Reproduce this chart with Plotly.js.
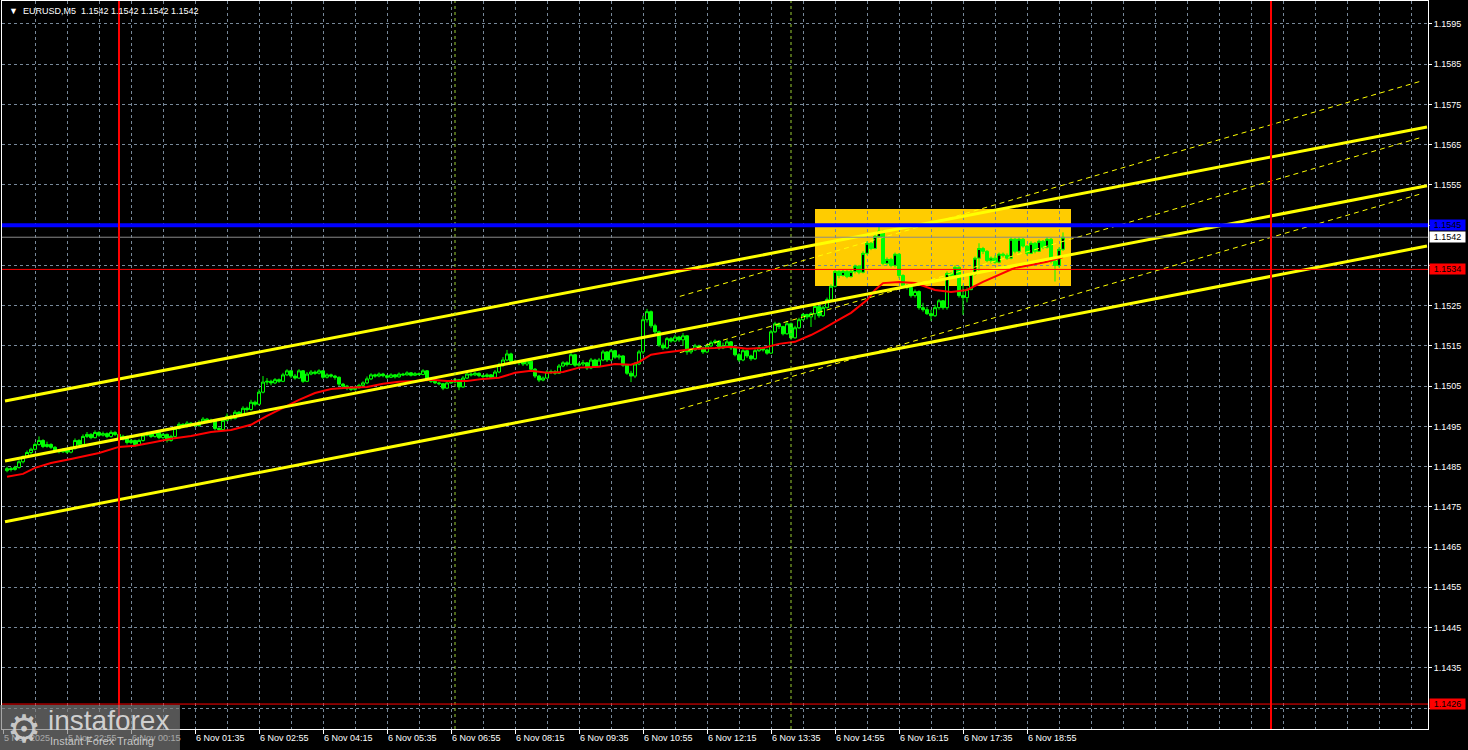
<!DOCTYPE html>
<html>
<head>
<meta charset="utf-8">
<script src="https://cdn.plot.ly/plotly-3.0.1.min.js"></script>
<style>
html,body{margin:0;padding:0;background:#000;}
#chart{width:1468px;height:750px;}
</style>
</head>
<body>
<div id="chart"></div>
<script>
// ---------- DATA (EURUSD M5, 5 Nov 21:40 -> 6 Nov 19:40) ----------
const firstBarUTC = Date.UTC(2025, 10, 5, 21, 40); // first bar time
const barStepMs = 5 * 60 * 1000;                   // M5 bars

const opens = [1.14840,1.14845,1.14843,1.14848,1.14862,1.14875,1.14885,1.14893,
1.14905,1.14915,1.14900,1.14905,1.14898,1.14890,1.14887,1.14892,
1.14886,1.14895,1.14915,1.14905,1.14925,1.14930,1.14922,1.14935,
1.14928,1.14932,1.14925,1.14935,1.14930,1.14918,1.14925,1.14910,
1.14915,1.14905,1.14915,1.14928,1.14932,1.14925,1.14935,1.14922,
1.14930,1.14915,1.14925,1.14945,1.14955,1.14950,1.14958,1.14955,
1.14952,1.14960,1.14968,1.14962,1.14965,1.14945,1.14942,1.14965,
1.14975,1.14970,1.14985,1.14980,1.14995,1.14992,1.15010,1.15005,
1.15035,1.15060,1.15062,1.15058,1.15066,1.15062,1.15078,1.15088,
1.15075,1.15070,1.15088,1.15062,1.15080,1.15085,1.15082,1.15088,
1.15072,1.15078,1.15075,1.15072,1.15055,1.15050,1.15045,1.15042,
1.15046,1.15052,1.15058,1.15068,1.15078,1.15075,1.15080,1.15076,
1.15072,1.15078,1.15073,1.15080,1.15078,1.15083,1.15077,1.15081,
1.15079,1.15088,1.15065,1.15062,1.15058,1.15056,1.15045,1.15058,
1.15060,1.15066,1.15048,1.15070,1.15080,1.15078,1.15082,1.15076,
1.15074,1.15078,1.15072,1.15085,1.15102,1.15115,1.15130,1.15112,
1.15108,1.15110,1.15105,1.15112,1.15092,1.15075,1.15065,1.15070,
1.15085,1.15086,1.15082,1.15100,1.15108,1.15104,1.15128,1.15102,
1.15105,1.15108,1.15095,1.15115,1.15100,1.15115,1.15135,1.15115,
1.15138,1.15122,1.15125,1.15102,1.15082,1.15075,1.15105,1.15135,
1.15215,1.15235,1.15200,1.15185,1.15152,1.15145,1.15168,1.15162,
1.15172,1.15165,1.15175,1.15135,1.15140,1.15150,1.15145,1.15135,
1.15150,1.15158,1.15162,1.15145,1.15150,1.15160,1.15145,1.15128,
1.15115,1.15138,1.15125,1.15118,1.15138,1.15145,1.15140,1.15132,
1.15185,1.15205,1.15198,1.15180,1.15205,1.15170,1.15195,1.15215,
1.15228,1.15222,1.15230,1.15248,1.15225,1.15245,1.15265,1.15298,
1.15335,1.15325,1.15335,1.15322,1.15335,1.15348,1.15333,1.15380,
1.15405,1.15392,1.15422,1.15435,1.15355,1.15365,1.15350,1.15378,
1.15325,1.15300,1.15295,1.15275,1.15285,1.15245,1.15240,1.15230,
1.15225,1.15245,1.15262,1.15245,1.15330,1.15325,1.15345,1.15275,
1.15270,1.15290,1.15328,1.15368,1.15392,1.15385,1.15362,1.15368,
1.15358,1.15378,1.15375,1.15368,1.15415,1.15385,1.15415,1.15398,
1.15380,1.15405,1.15385,1.15410,1.15395,1.15415,1.15360,1.15350,
1.15390];

const highs = [1.14850,1.14849,1.14852,1.14866,1.14878,1.14890,1.14897,1.14910,
1.14925,1.14918,1.14912,1.14908,1.14901,1.14893,1.14896,1.14895,
1.14900,1.14920,1.14918,1.14930,1.14936,1.14933,1.14940,1.14938,
1.14937,1.14935,1.14940,1.14938,1.14932,1.14929,1.14927,1.14919,
1.14917,1.14919,1.14932,1.14937,1.14935,1.14939,1.14937,1.14934,
1.14932,1.14929,1.14950,1.14960,1.14958,1.14963,1.14961,1.14958,
1.14965,1.14973,1.14971,1.14969,1.14967,1.14948,1.14970,1.14982,
1.14979,1.14990,1.14988,1.15000,1.14999,1.15016,1.15014,1.15042,
1.15075,1.15070,1.15066,1.15070,1.15069,1.15083,1.15092,1.15090,
1.15080,1.15092,1.15090,1.15085,1.15090,1.15089,1.15092,1.15090,
1.15082,1.15081,1.15078,1.15074,1.15058,1.15053,1.15048,1.15050,
1.15056,1.15062,1.15074,1.15082,1.15081,1.15084,1.15083,1.15079,
1.15082,1.15080,1.15084,1.15083,1.15087,1.15085,1.15085,1.15084,
1.15092,1.15090,1.15068,1.15065,1.15061,1.15058,1.15062,1.15064,
1.15070,1.15068,1.15075,1.15085,1.15084,1.15086,1.15084,1.15079,
1.15082,1.15080,1.15090,1.15108,1.15122,1.15140,1.15133,1.15116,
1.15115,1.15114,1.15116,1.15114,1.15095,1.15078,1.15074,1.15090,
1.15091,1.15090,1.15105,1.15112,1.15112,1.15133,1.15130,1.15110,
1.15115,1.15110,1.15120,1.15118,1.15120,1.15140,1.15137,1.15142,
1.15140,1.15130,1.15127,1.15105,1.15088,1.15110,1.15140,1.15225,
1.15242,1.15238,1.15205,1.15188,1.15158,1.15172,1.15172,1.15178,
1.15175,1.15182,1.15177,1.15145,1.15155,1.15153,1.15148,1.15155,
1.15163,1.15166,1.15164,1.15158,1.15165,1.15162,1.15148,1.15132,
1.15142,1.15140,1.15128,1.15142,1.15150,1.15148,1.15143,1.15190,
1.15210,1.15208,1.15200,1.15212,1.15208,1.15200,1.15220,1.15232,
1.15230,1.15234,1.15252,1.15250,1.15250,1.15270,1.15303,1.15340,
1.15338,1.15340,1.15338,1.15340,1.15352,1.15351,1.15385,1.15410,
1.15408,1.15428,1.15446,1.15438,1.15370,1.15369,1.15382,1.15380,
1.15328,1.15304,1.15298,1.15290,1.15288,1.15257,1.15247,1.15240,
1.15252,1.15266,1.15264,1.15335,1.15333,1.15350,1.15348,1.15302,
1.15295,1.15332,1.15372,1.15405,1.15396,1.15388,1.15372,1.15375,
1.15382,1.15382,1.15380,1.15420,1.15418,1.15420,1.15418,1.15400,
1.15410,1.15408,1.15414,1.15413,1.15420,1.15418,1.15365,1.15395,
1.15432];

const lows = [1.14836,1.14838,1.14840,1.14845,1.14858,1.14872,1.14880,1.14890,
1.14902,1.14896,1.14897,1.14894,1.14886,1.14883,1.14884,1.14882,
1.14883,1.14892,1.14902,1.14903,1.14921,1.14918,1.14920,1.14924,
1.14925,1.14921,1.14922,1.14926,1.14914,1.14915,1.14905,1.14906,
1.14900,1.14902,1.14912,1.14925,1.14921,1.14922,1.14918,1.14919,
1.14910,1.14912,1.14922,1.14942,1.14946,1.14947,1.14951,1.14948,
1.14949,1.14957,1.14958,1.14958,1.14940,1.14938,1.14940,1.14962,
1.14965,1.14967,1.14975,1.14977,1.14987,1.14989,1.15000,1.15002,
1.15032,1.15053,1.15052,1.15055,1.15058,1.15060,1.15075,1.15070,
1.15066,1.15068,1.15058,1.15060,1.15077,1.15078,1.15079,1.15068,
1.15069,1.15071,1.15066,1.15050,1.15046,1.15040,1.15038,1.15039,
1.15043,1.15049,1.15055,1.15065,1.15071,1.15072,1.15072,1.15068,
1.15070,1.15069,1.15071,1.15075,1.15076,1.15074,1.15075,1.15076,
1.15077,1.15062,1.15058,1.15055,1.15052,1.15040,1.15043,1.15055,
1.15057,1.15040,1.15046,1.15068,1.15074,1.15075,1.15072,1.15070,
1.15071,1.15068,1.15070,1.15082,1.15098,1.15112,1.15108,1.15104,
1.15102,1.15100,1.15100,1.15088,1.15070,1.15060,1.15062,1.15068,
1.15080,1.15078,1.15080,1.15097,1.15099,1.15102,1.15098,1.15098,
1.15100,1.15090,1.15092,1.15096,1.15098,1.15112,1.15110,1.15112,
1.15118,1.15116,1.15098,1.15078,1.15060,1.15070,1.15102,1.15130,
1.15208,1.15195,1.15180,1.15148,1.15140,1.15142,1.15158,1.15159,
1.15160,1.15150,1.15128,1.15130,1.15138,1.15140,1.15130,1.15132,
1.15147,1.15154,1.15140,1.15142,1.15147,1.15140,1.15124,1.15110,
1.15112,1.15120,1.15113,1.15115,1.15135,1.15136,1.15128,1.15130,
1.15182,1.15192,1.15176,1.15178,1.15165,1.15168,1.15192,1.15212,
1.15216,1.15197,1.15215,1.15220,1.15222,1.15243,1.15262,1.15295,
1.15318,1.15322,1.15318,1.15320,1.15330,1.15328,1.15330,1.15376,
1.15388,1.15390,1.15418,1.15350,1.15350,1.15345,1.15345,1.15318,
1.15296,1.15290,1.15270,1.15270,1.15240,1.15235,1.15227,1.15212,
1.15222,1.15240,1.15240,1.15240,1.15320,1.15322,1.15270,1.15227,
1.15258,1.15288,1.15325,1.15331,1.15378,1.15358,1.15355,1.15354,
1.15355,1.15370,1.15364,1.15365,1.15380,1.15380,1.15394,1.15375,
1.15378,1.15380,1.15383,1.15390,1.15392,1.15355,1.15310,1.15345,
1.15386];

const closes = [1.14845,1.14843,1.14848,1.14862,1.14875,1.14885,1.14893,1.14905,
1.14915,1.14900,1.14905,1.14898,1.14890,1.14887,1.14892,1.14886,
1.14895,1.14915,1.14905,1.14925,1.14930,1.14922,1.14935,1.14928,
1.14932,1.14925,1.14935,1.14930,1.14918,1.14925,1.14910,1.14915,
1.14905,1.14915,1.14928,1.14932,1.14925,1.14935,1.14922,1.14930,
1.14915,1.14925,1.14945,1.14955,1.14950,1.14958,1.14955,1.14952,
1.14960,1.14968,1.14962,1.14965,1.14945,1.14942,1.14965,1.14975,
1.14970,1.14985,1.14980,1.14995,1.14992,1.15010,1.15005,1.15035,
1.15060,1.15062,1.15058,1.15066,1.15062,1.15078,1.15088,1.15075,
1.15070,1.15088,1.15062,1.15080,1.15085,1.15082,1.15088,1.15072,
1.15078,1.15075,1.15072,1.15055,1.15050,1.15045,1.15042,1.15046,
1.15052,1.15058,1.15068,1.15078,1.15075,1.15080,1.15076,1.15072,
1.15078,1.15073,1.15080,1.15078,1.15083,1.15077,1.15081,1.15079,
1.15088,1.15065,1.15062,1.15058,1.15056,1.15045,1.15058,1.15060,
1.15066,1.15048,1.15070,1.15080,1.15078,1.15082,1.15076,1.15074,
1.15078,1.15072,1.15085,1.15102,1.15115,1.15130,1.15112,1.15108,
1.15110,1.15105,1.15112,1.15092,1.15075,1.15065,1.15070,1.15085,
1.15086,1.15082,1.15100,1.15108,1.15104,1.15128,1.15102,1.15105,
1.15108,1.15095,1.15115,1.15100,1.15115,1.15135,1.15115,1.15138,
1.15122,1.15125,1.15102,1.15082,1.15075,1.15105,1.15135,1.15215,
1.15235,1.15200,1.15185,1.15152,1.15145,1.15168,1.15162,1.15172,
1.15165,1.15175,1.15135,1.15140,1.15150,1.15145,1.15135,1.15150,
1.15158,1.15162,1.15145,1.15150,1.15160,1.15145,1.15128,1.15115,
1.15138,1.15125,1.15118,1.15138,1.15145,1.15140,1.15132,1.15185,
1.15205,1.15198,1.15180,1.15205,1.15170,1.15195,1.15215,1.15228,
1.15222,1.15230,1.15248,1.15225,1.15245,1.15265,1.15298,1.15335,
1.15325,1.15335,1.15322,1.15335,1.15348,1.15333,1.15380,1.15405,
1.15392,1.15422,1.15435,1.15355,1.15365,1.15350,1.15378,1.15325,
1.15300,1.15295,1.15275,1.15285,1.15245,1.15240,1.15230,1.15225,
1.15245,1.15262,1.15245,1.15330,1.15325,1.15345,1.15275,1.15270,
1.15290,1.15328,1.15368,1.15392,1.15385,1.15362,1.15368,1.15358,
1.15378,1.15375,1.15368,1.15415,1.15385,1.15415,1.15398,1.15380,
1.15405,1.15385,1.15410,1.15395,1.15415,1.15360,1.15350,1.15390,
1.15420];

// moving average (red line), read at selected bars
const maBars = [0,4,7,11,16,23,28,32,37,41,46,51,56,61,65,69,73,77,81,85,90,94,98,102,106,110,115,119,123,127,131,135,139,143,148,152,156,158,161,164,168,172,177,181,185,189,193,197,201,204,208,211,215,217,219,223,227,229,232,236,240,244,248,252,256,260,264];
const maValues = [1.14825,1.14832,1.14847,1.14859,1.14869,1.14884,1.14899,1.14902,1.14911,1.14919,1.14926,1.14936,1.14941,1.14954,1.14976,1.14996,1.15016,1.15033,1.15043,1.15046,1.15048,1.15056,1.15061,1.15063,1.15066,1.15063,1.15063,1.15068,1.15071,1.15083,1.15088,1.15083,1.15085,1.15096,1.15098,1.15105,1.15103,1.15110,1.15128,1.15133,1.15138,1.15143,1.15145,1.15148,1.15143,1.15145,1.15155,1.15160,1.15177,1.15192,1.15215,1.15232,1.15264,1.15289,1.15306,1.15309,1.15306,1.15299,1.15289,1.15284,1.15289,1.15309,1.15326,1.15344,1.15351,1.15359,1.15371];

// solid yellow channel
const channelTimes = ['2025-11-05 21:37:30', '2025-11-07 03:15:00'];
const channelUpper = [1.15013, 1.15694];
const channelMid   = [1.14864, 1.15548];
const channelLower = [1.14713, 1.15398];
// dashed yellow channel
const dashTimes = ['2025-11-06 11:41:00', '2025-11-07 03:06:00'];
const dashUpper = [1.15273, 1.15807];
const dashMid   = [1.15133, 1.15667];
const dashLower = [1.14993, 1.15527];

// levels and markers
const blueLevel = 1.1545;
const bidLevel = 1.1542;
const redLevel = 1.1534;
const lowLevel = 1.1426;
const dayLines = ['2025-11-06 00:00:00', '2025-11-07 00:00:00'];
const sessionLines = ['2025-11-06 07:00:00', '2025-11-06 14:00:00'];
const boxTimes = ['2025-11-06 14:30:00', '2025-11-06 19:50:00'];
const boxPrices = [1.15299, 1.15490];

// axes
const xRange = ['2025-11-05 21:33:45', '2025-11-07 03:16:15'];
const yRange = [1.14198, 1.16007];
const xTickTimes = ['2025-11-05 21:35','2025-11-05 22:55','2025-11-06 00:15','2025-11-06 01:35','2025-11-06 02:55','2025-11-06 04:15','2025-11-06 05:35','2025-11-06 06:55','2025-11-06 08:15','2025-11-06 09:35','2025-11-06 10:55','2025-11-06 12:15','2025-11-06 13:35','2025-11-06 14:55','2025-11-06 16:15','2025-11-06 17:35','2025-11-06 18:55'];
const xTickLabels = ['5 Nov 2025','5 Nov 22:55','6 Nov 00:15','6 Nov 01:35','6 Nov 02:55','6 Nov 04:15','6 Nov 05:35','6 Nov 06:55','6 Nov 08:15','6 Nov 09:35','6 Nov 10:55','6 Nov 12:15','6 Nov 13:35','6 Nov 14:55','6 Nov 16:15','6 Nov 17:35','6 Nov 18:55'];
const yTickVals = [1.1425,1.1435,1.1445,1.1455,1.1465,1.1475,1.1485,1.1495,1.1505,1.1515,1.1525,1.1535,1.1545,1.1555,1.1565,1.1575,1.1585,1.1595];
const yTickLabels = ['','1.1435','1.1445','1.1455','1.1465','1.1475','1.1485','1.1495','1.1505','1.1515','1.1525','','','1.1555','1.1565','1.1575','1.1585','1.1595'];
const titleText = '▼  EURUSD,M5  1.1542 1.1542 1.1542 1.1542';

// ---------- BUILD ----------
function barTime(i) {
  return new Date(firstBarUTC + i * barStepMs).toISOString().slice(0, 19).replace('T', ' ');
}
const barTimes = closes.map((_, i) => barTime(i));
const maTimes = maBars.map(barTime);

const FONT = 'Liberation Sans, Arial, sans-serif';
const GRID = '#778899';

const traces = [
  {
    type: 'candlestick', x: barTimes, open: opens, high: highs, low: lows, close: closes,
    increasing: {line: {color: '#00FF00', width: 1}, fillcolor: '#000000'},
    decreasing: {line: {color: '#00FF00', width: 1}, fillcolor: '#00FF00'},
    whiskerwidth: 0, hoverinfo: 'skip', showlegend: false
  },
  {type: 'scatter', mode: 'lines', x: maTimes, y: maValues, line: {color: '#FF0000', width: 2}, hoverinfo: 'skip', showlegend: false},
  {type: 'scatter', mode: 'lines', x: dashTimes, y: dashUpper, line: {color: '#FFFF00', width: 1, dash: '5px,4px'}, hoverinfo: 'skip', showlegend: false},
  {type: 'scatter', mode: 'lines', x: dashTimes, y: dashMid, line: {color: '#FFFF00', width: 1, dash: '5px,4px'}, hoverinfo: 'skip', showlegend: false},
  {type: 'scatter', mode: 'lines', x: dashTimes, y: dashLower, line: {color: '#FFFF00', width: 1, dash: '5px,4px'}, hoverinfo: 'skip', showlegend: false},
  {type: 'scatter', mode: 'lines', x: channelTimes, y: channelUpper, line: {color: '#FFFF00', width: 3}, hoverinfo: 'skip', showlegend: false},
  {type: 'scatter', mode: 'lines', x: channelTimes, y: channelMid, line: {color: '#FFFF00', width: 3}, hoverinfo: 'skip', showlegend: false},
  {type: 'scatter', mode: 'lines', x: channelTimes, y: channelLower, line: {color: '#FFFF00', width: 3}, hoverinfo: 'skip', showlegend: false}
];

function hLine(y, color, width) {
  return {type: 'line', xref: 'paper', x0: 0, x1: 1, yref: 'y', y0: y, y1: y, line: {color: color, width: width}, layer: 'above'};
}
function vLine(x, color, width, dash) {
  return {type: 'line', xref: 'x', x0: x, x1: x, yref: 'paper', y0: 0, y1: 1, line: {color: color, width: width, dash: dash || 'solid'}, layer: 'above'};
}

const shapes = [
  {type: 'rect', xref: 'x', yref: 'y', x0: boxTimes[0], x1: boxTimes[1], y0: boxPrices[0], y1: boxPrices[1],
   fillcolor: '#FFCC00', line: {width: 0}, layer: 'below'},
  vLine(sessionLines[0], '#9ACD32', 1, '3px,3px'),
  vLine(sessionLines[1], '#9ACD32', 1, '3px,3px'),
  hLine(bidLevel, '#8A8A8A', 1),
  hLine(redLevel, '#FF0000', 1),
  hLine(lowLevel, '#FF0000', 1),
  hLine(blueLevel, '#0000FF', 4),
  vLine(dayLines[0], '#FF0000', 2),
  vLine(dayLines[1], '#FF0000', 2),
  // instaforex watermark panel
  {type: 'rect', xref: 'paper', yref: 'paper', x0: -0.0015, x1: 0.1248, y0: -0.0289, y1: 0.033,
   fillcolor: 'rgba(125,125,125,0.68)', line: {width: 0}, layer: 'above'}
];

function priceTag(y, text, bg) {
  return {xref: 'paper', x: 1, xanchor: 'left', xshift: 1, yref: 'y', y: y, yanchor: 'middle',
          text: text, showarrow: false, bgcolor: bg, width: 35, height: 10, borderpad: 0,
          font: {family: FONT, size: 9, color: '#000000'}, align: 'center'};
}

const annotations = [
  {xref: 'paper', yref: 'paper', x: 0.0035, y: 0.9863, xanchor: 'left', yanchor: 'middle', showarrow: false,
   text: titleText, font: {family: FONT, size: 9, color: '#FFFFFF'}},
  priceTag(blueLevel, blueLevel.toFixed(4), '#0000FF'),
  priceTag(bidLevel, bidLevel.toFixed(4), '#FFFFFF'),
  priceTag(redLevel, redLevel.toFixed(4), '#FF0000'),
  priceTag(lowLevel, lowLevel.toFixed(4), '#FF0000'),
  {xref: 'paper', yref: 'paper', x: 0.0155, y: 0.0, xanchor: 'center', yanchor: 'middle', showarrow: false,
   text: '⚙', font: {family: 'DejaVu Sans', size: 38, color: 'rgba(215,215,215,0.9)'}},
  {xref: 'paper', yref: 'paper', x: 0.031, y: 0.011, xanchor: 'left', yanchor: 'middle', showarrow: false,
   text: 'instaforex', font: {family: FONT, size: 28, color: 'rgba(220,220,220,0.92)'}},
  {xref: 'paper', yref: 'paper', x: 0.032, y: -0.0165, xanchor: 'left', yanchor: 'middle', showarrow: false,
   text: 'Instant Forex Trading', font: {family: FONT, size: 11, color: 'rgba(210,210,210,0.9)'}}
];

const layout = {
  width: 1468, height: 750,
  margin: {l: 2, r: 40, t: 1, b: 21, pad: 0},
  paper_bgcolor: '#000000', plot_bgcolor: '#000000',
  showlegend: false, hovermode: false,
  boxgap: 0.25, boxgroupgap: 0,
  xaxis: {
    type: 'date', range: xRange, rangeslider: {visible: false},
    tickvals: xTickTimes, ticktext: xTickLabels, ticklabelposition: 'outside right',
    ticks: 'outside', ticklen: 4, tickcolor: '#FFFFFF',
    tickfont: {family: FONT, size: 9, color: '#FFFFFF'},
    showgrid: true, gridcolor: GRID, griddash: '3px,3px', gridwidth: 1,
    minor: {tick0: '2025-11-05 21:35', dtick: 2400000, showgrid: true, gridcolor: GRID, griddash: '3px,3px', gridwidth: 1, ticks: ''},
    showline: true, linecolor: '#FFFFFF', linewidth: 1, mirror: true, zeroline: false, fixedrange: true
  },
  yaxis: {
    side: 'right', range: yRange,
    tickvals: yTickVals, ticktext: yTickLabels,
    ticks: 'outside', ticklen: 3, tickcolor: '#FFFFFF',
    tickfont: {family: FONT, size: 9, color: '#FFFFFF'},
    showgrid: true, gridcolor: GRID, griddash: '3px,3px', gridwidth: 1,
    showline: true, linecolor: '#FFFFFF', linewidth: 1, mirror: true, zeroline: false, fixedrange: true
  },
  shapes: shapes,
  annotations: annotations
};

Plotly.newPlot('chart', traces, layout, {displayModeBar: false, staticPlot: true});
</script>
</body>
</html>
